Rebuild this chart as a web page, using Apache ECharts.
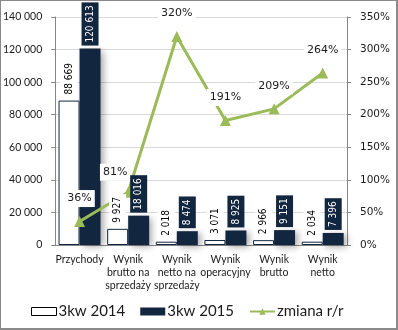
<!DOCTYPE html>
<html>
<head>
<meta charset="utf-8">
<script src="https://cdn.jsdelivr.net/npm/echarts@6/dist/echarts.min.js"></script>
<style>
  html, body { margin: 0; padding: 0; background: #fff; }
  #wrap { position: relative; width: 398px; height: 330px; }
  #chart { position: absolute; left: 0; top: 0; width: 398px; height: 330px; }
  #frame { position: absolute; left: 0; top: 0; width: 398px; height: 330px; box-sizing: border-box;
           border: 1px solid #8a8a8a; border-right-width: 2px; border-bottom-width: 2px;
           pointer-events: none; }
</style>
</head>
<body>
<div id="wrap"><div id="chart"></div><div id="frame"></div></div>
<script>
const categories = ['Przychody', 'Wynik\nbrutto na\nsprzedaży', 'Wynik\nnetto na\nsprzedaży',
                    'Wynik\noperacyjny', 'Wynik\nbrutto', 'Wynik\nnetto'];
const q3_2014 = [88669, 9927, 2018, 3071, 2966, 2034];
const q3_2015 = [120613, 18016, 8474, 8925, 9151, 7396];
const changeYoY = [36, 81, 320, 191, 209, 264];
const seriesNames = ['3kw 2014', '3kw 2015', 'zmiana r/r'];

const NAVY = '#132640';
const GREEN = '#9bbb59';
const TXT = '#1a1a1a';

const fmtThousands = v => String(v).replace(/\B(?=(\d{3})+(?!\d))/g, ' ');

const chart = echarts.init(document.getElementById('chart'), null, { renderer: 'canvas' });

// Value labels ride on zero-height bars stacked on top of each real bar,
// so they can be drawn above the line while the bars stay below it.
function labelCarrier(stack, values, color, bg) {
  return {
    type: 'bar', stack: stack, barWidth: 21, barGap: '0%', z: 4, silent: true,
    data: values.map(() => 0),
    itemStyle: { color: 'rgba(0,0,0,0)' },
    label: {
      show: true, position: 'top', rotate: 90, align: 'left', verticalAlign: 'middle',
      distance: 3, fontFamily: 'DejaVu Sans Condensed', fontSize: 10, lineHeight: 12,
      padding: [3, 3, 2, 3],
      color: color, backgroundColor: bg,
      formatter: p => fmtThousands(values[p.dataIndex])
    }
  };
}

// the second point's label sits up and to the left of its marker
const lineData = changeYoY.map((v, i) => i === 1
  ? { value: v, label: { offset: [-13, 3] } }
  : v);

chart.setOption({
  animation: false,
  grid: { left: 50, right: 51, top: 17, bottom: 85 },
  legend: {
    bottom: 6, left: 26, itemGap: 15, itemWidth: 25, itemHeight: 8,
    textStyle: { fontFamily: 'Lato', fontSize: 15, color: TXT, padding: [0, 0, 0, -3] },
    data: [
      { name: seriesNames[0], icon: 'rect', itemStyle: { color: '#fff', borderColor: '#000', borderWidth: 1 } },
      { name: seriesNames[1], icon: 'rect' },
      { name: seriesNames[2] }
    ]
  },
  xAxis: {
    type: 'category', data: categories,
    axisLine: { show: true, lineStyle: { color: '#868686' } },
    axisTick: { show: false },
    axisLabel: { color: TXT, fontFamily: 'Lato', fontSize: 10.5, lineHeight: 13, margin: 8, interval: 0 }
  },
  yAxis: [
    {
      type: 'value', min: 0, max: 140000, interval: 20000,
      axisLine: { show: true, lineStyle: { color: '#868686' } },
      axisTick: { show: true, length: 4, lineStyle: { color: '#868686' } },
      axisLabel: { color: TXT, fontFamily: 'Lato', fontSize: 10.5, margin: 13,
                   formatter: v => fmtThousands(v) },
      splitLine: { lineStyle: { color: '#d9d9d9' } }
    },
    {
      type: 'value', min: 0, max: 350, interval: 50,
      axisLine: { show: true, lineStyle: { color: '#868686' } },
      axisTick: { show: true, length: 4, lineStyle: { color: '#868686' } },
      axisLabel: { color: TXT, fontFamily: 'DejaVu Sans', fontSize: 10.5, margin: 13,
                   formatter: v => v + '%' },
      splitLine: { show: false }
    }
  ],
  series: [
    {
      name: seriesNames[0], type: 'bar', stack: 'y2014', data: q3_2014, barWidth: 21, barGap: '0%',
      itemStyle: { color: '#fff', borderColor: '#132640', borderWidth: 1 },
      z: 2
    },
    {
      name: seriesNames[1], type: 'bar', stack: 'y2015', data: q3_2015, barWidth: 21, barGap: '0%',
      itemStyle: { color: NAVY, shadowColor: 'rgba(0,0,0,0.35)', shadowBlur: 7, shadowOffsetX: 3, shadowOffsetY: 2 },
      z: 2
    },
    labelCarrier('y2014', q3_2014, '#000', '#fff'),
    labelCarrier('y2015', q3_2015, '#fff', NAVY),
    {
      name: seriesNames[2], type: 'line', yAxisIndex: 1, data: lineData,
      symbol: 'triangle', symbolSize: 11,
      lineStyle: { color: GREEN, width: 3 },
      itemStyle: { color: GREEN },
      label: { show: true, position: 'top', distance: 9, color: TXT, fontFamily: 'DejaVu Sans',
               fontSize: 11, backgroundColor: '#fff', padding: [3, 3, 3, 3],
               formatter: p => p.value + '%' },
      z: 3
    }
  ]
});
</script>
</body>
</html>
